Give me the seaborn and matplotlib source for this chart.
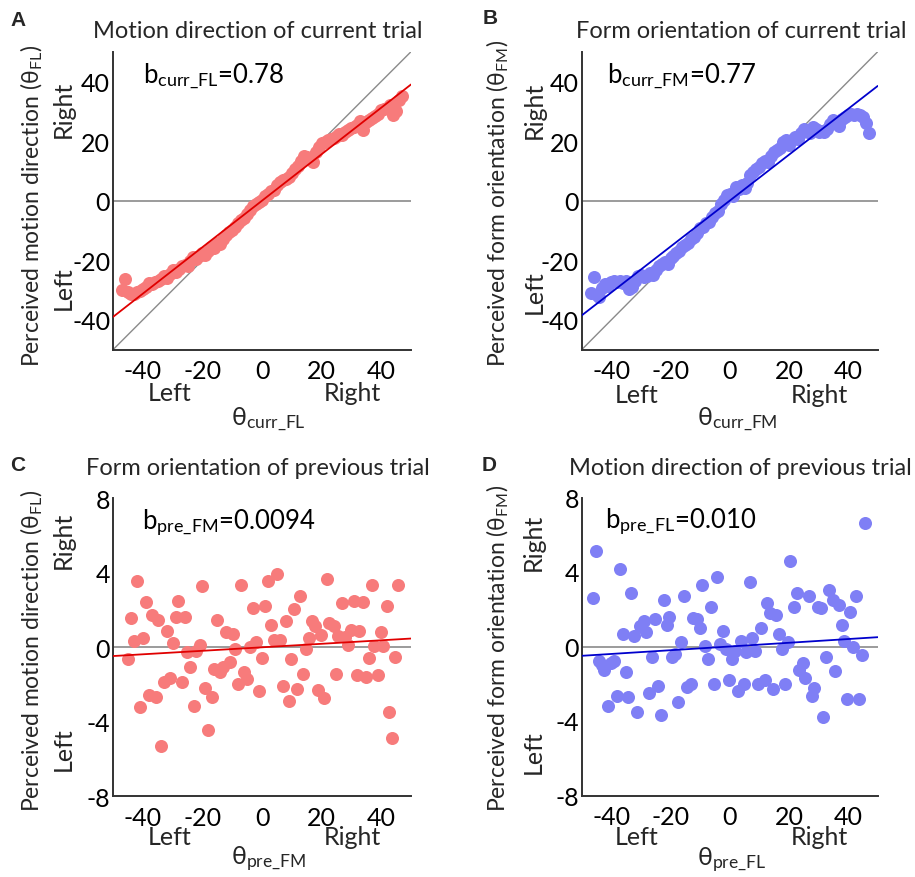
import matplotlib
matplotlib.use("Agg")
import matplotlib.pyplot as plt
import seaborn as sns
import numpy as np

sns.set_style("white")
FONT = "Lato"
plt.rcParams["font.family"] = [FONT, "DejaVu Sans"]
plt.rcParams["mathtext.fontset"] = "custom"
plt.rcParams["mathtext.rm"] = FONT
plt.rcParams["mathtext.it"] = FONT + ":italic"
plt.rcParams["mathtext.bf"] = FONT + ":bold"

# ---------------- data ----------------
x_curr_FL = [-47, -46, -45, -44, -43, -42, -41, -40, -39, -38, -37, -36, -35, -34, -33, -32,
             -31, -30, -29, -28, -27, -26, -25, -24, -23, -22, -21, -20, -19, -18, -17, -16,
             -15, -14, -13, -12, -11, -10, -9, -8, -7, -6, -5, -4, -3, -2, -1, 0,
             1, 2, 3, 4, 5, 6, 7, 8, 9, 10, 11, 12, 13, 14, 15, 16,
             17, 18, 19, 20, 21, 22, 23, 24, 25, 26, 27, 28, 29, 30, 31, 32,
             33, 34, 35, 36, 37, 38, 39, 40, 41, 42, 43, 44, 45, 46, 47]
y_curr_FL = [-30.0, -26.3, -30.5, -31.2, -31.4, -30.8, -30.2, -29.6, -28.8, -27.6, -27.9, -27.2,
             -27.0, -26.4, -25.2, -25.8, -24.6, -23.2, -23.8, -22.9, -22.0, -21.5, -21.9, -20.4,
             -19.0, -19.6, -18.4, -17.6, -18.3, -16.8, -15.4, -15.9, -14.2, -14.6, -12.8, -11.4,
             -10.6, -9.8, -8.7, -7.6, -6.4, -5.8, -4.3, -3.2, -1.8, -1.2, -0.4, 0.4,
             1.6, 2.2, 3.1, 3.6, 5.2, 6.3, 6.8, 7.4, 7.9, 9.4, 10.6, 11.8,
             13.2, 15.0, 14.6, 14.1, 12.9, 16.2, 18.1, 19.2, 19.8, 20.3, 20.6, 21.2,
             21.8, 22.4, 22.1, 23.0, 23.8, 24.3, 24.6, 25.5, 26.8, 23.6, 26.3, 27.2,
             27.6, 28.4, 29.1, 30.4, 30.9, 31.2, 32.0, 28.9, 30.1, 33.8, 35.3]

x_curr_FM = list(x_curr_FL)
y_curr_FM = [-31.0, -25.6, -31.5, -32.2, -29.3, -28.0, -28.6, -27.4, -26.8, -27.2, -27.0, -27.6,
             -27.1, -29.5, -28.9, -27.0, -25.4, -25.0, -25.6, -25.2, -24.4, -25.0, -23.2, -22.0,
             -21.1, -20.5, -21.2, -19.2, -18.4, -17.6, -17.0, -15.4, -14.8, -14.1, -12.9, -12.3,
             -11.0, -9.2, -8.8, -7.6, -7.0, -5.6, -4.2, -3.3, -1.2, 0.4, 1.8, 2.4,
             1.6, 4.6, 4.0, 5.2, 4.4, 6.1, 8.6, 9.6, 10.6, 11.2, 12.6, 13.4,
             13.0, 15.1, 16.3, 16.9, 17.8, 19.6, 20.3, 18.6, 20.4, 21.3, 20.8, 22.6,
             24.2, 23.4, 22.8, 24.6, 24.1, 23.2, 23.4, 22.9, 24.2, 25.8, 27.0, 26.4,
             25.1, 27.4, 28.1, 28.6, 29.2, 28.8, 29.1, 28.6, 28.2, 26.0, 22.6]

x_pre_FM = [-44.9, -43.8, -42.9, -41.8, -40.9, -39.8, -38.8, -37.9, -37.0, -35.7, -34.9, -34.0,
            -32.9, -32.0, -30.9, -29.8, -29.0, -28.1, -27.0, -25.9, -25.1, -24.0, -22.9, -22.0,
            -20.8, -20.0, -19.0, -18.1, -16.9, -16.2, -15.1, -14.2, -13.0, -12.0, -10.9, -9.8,
            -8.9, -8.1, -6.9, -6.1, -5.0, -3.9, -3.0, -2.0, -1.1, 0.0, 0.9, 1.9,
            3.0, 3.9, 5.0, 6.1, 6.9, 8.0, 8.9, 9.8, 10.9, 11.9, 12.8, 13.9,
            14.8, 15.9, 16.7, 17.8, 18.7, 19.7, 20.8, 21.7, 22.6, 24.0, 24.9, 25.6,
            27.0, 27.9, 28.8, 29.8, 30.9, 31.8, 32.7, 33.8, 34.8, 35.8, 36.8, 37.7,
            38.8, 39.8, 40.7, 41.8, 42.7, 43.7, 44.6, 45.7]
y_pre_FM = [-0.63, 1.58, 0.36, 3.58, -3.19, 0.48, 2.42, -2.54, 1.76, -2.69, 1.49, -5.29,
            -1.88, 0.90, -1.67, 0.22, 1.61, 2.51, -1.88, 1.61, -0.27, -1.08, -3.14, -0.18,
            0.13, 3.28, -2.19, -4.44, -2.69, -1.16, 1.49, -1.31, -1.08, 0.84, -0.81, 0.72,
            -0.09, -1.97, 3.35, -1.31, -1.70, 0.00, 2.10, 0.27, -2.37, -0.59, 2.24, 3.58,
            1.20, 0.39, 3.94, 0.39, -2.06, 1.43, -2.90, -0.63, 2.06, -2.24, 2.78, -1.43,
            -0.09, 0.48, 1.40, 1.16, -2.28, 0.66, -2.74, 3.67, 1.31, 1.13, -1.43, 0.63,
            2.38, 0.57, 0.14, 0.95, 2.51, -1.49, 0.90, 2.42, -1.61, -0.57, 3.32, 0.09,
            -1.49, 0.81, 0.05, 2.24, -3.49, -4.89, -0.50, 3.32]

x_pre_FL = [-46.2, -45.2, -44.3, -43.2, -42.3, -41.1, -40.1, -39.0, -38.1, -37.2, -36.2, -35.2,
            -34.2, -33.3, -32.2, -31.2, -30.3, -29.1, -28.3, -27.2, -26.2, -25.2, -24.2, -23.2,
            -22.2, -21.3, -20.4, -19.4, -18.4, -17.3, -16.3, -15.4, -14.3, -13.2, -12.3, -11.2,
            -10.1, -9.2, -8.3, -7.3, -6.2, -5.3, -4.4, -3.4, -2.2, -1.3, -0.2, 0.8,
            1.7, 2.8, 3.7, 4.7, 5.6, 6.7, 7.6, 8.7, 9.6, 10.7, 11.8, 12.7,
            13.6, 14.7, 15.7, 16.6, 17.6, 18.6, 19.7, 20.5, 21.6, 22.6, 23.5, 24.7,
            25.6, 26.7, 27.7, 28.6, 29.7, 30.8, 31.6, 32.7, 33.6, 34.8, 35.5, 36.8,
            37.8, 38.7, 39.6, 40.7, 41.7, 42.6, 43.7, 44.6, 45.6]
y_pre_FL = [2.62, 5.13, -0.79, -1.02, -1.24, -3.21, -0.88, -0.79, -2.64, 4.18, 0.68, -1.38,
            -2.71, 2.89, 0.56, -3.53, 1.09, 1.36, 0.77, -2.49, -0.57, 1.49, -2.13, -3.66,
            2.49, 1.15, 1.60, -0.56, -0.38, -2.98, 0.23, 2.71, -2.17, -2.01, 1.54, 1.49,
            0.97, 3.28, 0.02, -0.66, 2.12, -2.01, 3.73, 0.14, 0.83, -0.13, -1.78, -0.66,
            -0.25, -2.40, 0.32, -1.99, -0.30, 3.48, 0.47, -0.22, -2.01, 1.00, -1.78, 2.31,
            1.78, -2.28, 1.69, 0.68, -0.16, -2.04, 0.23, 4.59, 2.13, 2.85, -1.24, -0.88,
            -1.69, 2.71, -2.64, -2.22, 2.13, 2.08, -3.78, -0.56, 3.03, 2.49, -1.33, 2.22,
            1.18, 0.29, -2.82, 1.85, -0.02, 2.71, -2.82, -0.43, 6.65]

slopes = [0.78, 0.77, 0.0094, 0.010]
intercepts = [0.0, 0.0, 0.0, 0.0]
titles = ["Motion direction of current trial", "Form orientation of current trial",
          "Form orientation of previous trial", "Motion direction of previous trial"]
letters = ["A", "B", "C", "D"]
ylabels = ["Perceived motion direction (θ$_{\\mathrm{FL}}$)",
           "Perceived form orientation (θ$_{\\mathrm{FM}}$)",
           "Perceived motion direction (θ$_{\\mathrm{FL}}$)",
           "Perceived form orientation (θ$_{\\mathrm{FM}}$)"]
xlabels = ["θ$_{\\mathrm{curr\\_FL}}$", "θ$_{\\mathrm{curr\\_FM}}$",
           "θ$_{\\mathrm{pre\\_FM}}$", "θ$_{\\mathrm{pre\\_FL}}$"]
bnotes = ["b$_{\\mathrm{curr\\_FL}}$=0.78", "b$_{\\mathrm{curr\\_FM}}$=0.77",
          "b$_{\\mathrm{pre\\_FM}}$=0.0094", "b$_{\\mathrm{pre\\_FL}}$=0.010"]
x_ticks = [-40, -20, 0, 20, 40]
y_ticks_curr = [-40, -20, 0, 20, 40]
y_ticks_pre = [-8, -4, 0, 4, 8]

# ---------------- layout ----------------
W, H = 915, 878
fig = plt.figure(figsize=(W / 100, H / 100), dpi=100)

def fx(px):
    return px / W

def fy(py):
    return 1 - py / H

boxes = [(113, 52.7, 411, 350.7), (581.7, 52.7, 877.7, 350.7),
         (113, 499.3, 411, 797.3), (581.7, 498.5, 877.7, 796.5)]
axes = []
for (l, t, r, b) in boxes:
    axes.append(fig.add_axes([fx(l), fy(b), (r - l) / W, (b - t) / H]))

RED_PT, BLUE_PT = "#F77B7B", "#7F7FF5"
RED_LN, BLUE_LN = "#E00000", "#0000CC"
GRAY = "#8a8a8a"
SPINE = "#333333"

datasets = [(x_curr_FL, y_curr_FL, RED_PT, RED_LN, (-50, 50), y_ticks_curr),
            (x_curr_FM, y_curr_FM, BLUE_PT, BLUE_LN, (-50, 50), y_ticks_curr),
            (x_pre_FM, y_pre_FM, RED_PT, RED_LN, (-8, 8), y_ticks_pre),
            (x_pre_FL, y_pre_FL, BLUE_PT, BLUE_LN, (-8, 8), y_ticks_pre)]

note_pos = [(-40, 40), (-41.4, 40), (-40.2, 6.4), (-42, 6.4)]
xline = np.array([-50, 50])
TICK_FS = 18
LAB_FS = 18

for i, ax in enumerate(axes):
    xs, ys, cpt, cln, ylim, yt = datasets[i]
    ax.set_xlim(-50, 50)
    ax.set_ylim(*ylim)
    ax.plot(xline, [0, 0], color=GRAY, lw=1.2, zorder=1)
    if i < 2:
        ax.plot(xline, xline, color=GRAY, lw=1.0, zorder=1)
    sns.scatterplot(x=xs, y=ys, ax=ax, color=cpt, s=88, linewidth=0, zorder=2, legend=False)
    ax.plot(xline, slopes[i] * xline + intercepts[i], color=cln, lw=1.3, zorder=3)
    ax.set_xticks(x_ticks)
    ax.set_yticks(yt)
    ax.set_xticklabels([str(v) for v in x_ticks])
    ax.set_yticklabels([str(v) for v in yt])
    ax.tick_params(direction="in", length=9, width=1.3, colors=SPINE, labelsize=TICK_FS,
                   labelcolor="black")
    ax.tick_params(axis="x", pad=7)
    ax.tick_params(axis="y", pad=2)
    for s in ["top", "right"]:
        ax.spines[s].set_visible(False)
    for s in ["left", "bottom"]:
        ax.spines[s].set_color(SPINE)
        ax.spines[s].set_linewidth(1.4)
    ax.set_facecolor("white")
    nx, ny = note_pos[i]
    ax.text(nx, ny, bnotes[i], fontsize=18.5, va="baseline", ha="left", color="black")

# titles
for (txt, (px, py)) in zip(titles, [(258, 32), (741, 32), (258, 469), (740, 469)]):
    fig.text(fx(px), fy(py), txt, ha="center", va="center", fontsize=17)
# letters
for (txt, (px, py)) in zip(letters, [(18, 20), (490, 18), (18, 466), (489, 466)]):
    fig.text(fx(px), fy(py), txt, ha="center", va="center", fontsize=15,
             fontweight="bold", family="Liberation Sans")
# y labels
for (txt, (px, py)) in zip(ylabels, [(32, 367), (498, 367), (32, 812), (498, 812)]):
    fig.text(fx(px), fy(py), txt, ha="center", va="bottom", rotation=90, fontsize=16.5)
# y Right/Left
for (px, py) in [(63, 109), (534, 110), (63, 540), (533, 542)]:
    fig.text(fx(px), fy(py), "Right", ha="center", va="center", rotation=90, fontsize=LAB_FS)
for (px, py) in [(63, 288), (534, 292), (63, 749), (533, 752)]:
    fig.text(fx(px), fy(py), "Left", ha="center", va="center", rotation=90, fontsize=LAB_FS)
# x Left/Right
for (px, py) in [(170, 394), (637, 396), (170, 838), (637, 838)]:
    fig.text(fx(px), fy(py), "Left", ha="center", va="center", fontsize=LAB_FS)
for (px, py) in [(352, 394), (819, 396), (352, 838), (819, 838)]:
    fig.text(fx(px), fy(py), "Right", ha="center", va="center", fontsize=LAB_FS)
# x labels
for (txt, (px, py)) in zip(xlabels, [(268, 419), (737, 419), (269, 859), (732, 860)]):
    fig.text(fx(px), fy(py), txt, ha="center", va="center", fontsize=18)

fig.savefig("out.png", dpi=100, facecolor="white")
